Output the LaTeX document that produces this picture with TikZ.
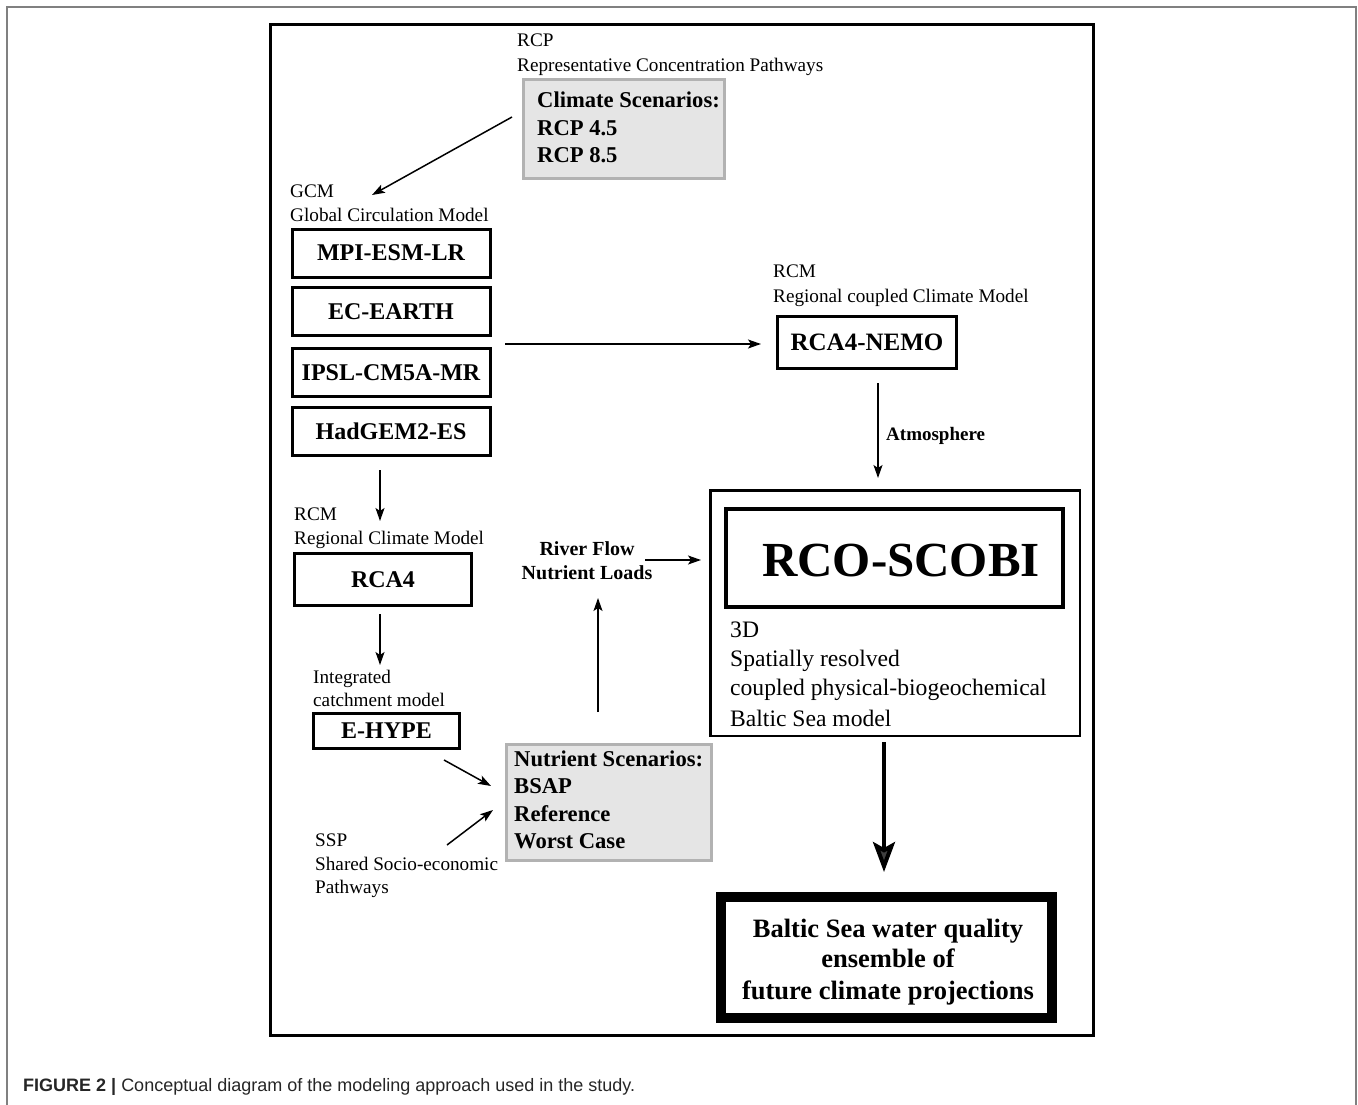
\documentclass[tikz,border=0pt]{standalone}
\usepackage{fontspec}
\setmainfont{Liberation Serif}
\newfontfamily\capfont{Liberation Sans}
\usetikzlibrary{arrows.meta}
\tikzset{
  lbl/.style={anchor=base west, inner sep=0pt, font=\fontsize{19.2}{25}\selectfont},
  biglbl/.style={anchor=base west, inner sep=0pt, font=\fontsize{23.6}{29}\selectfont},
  blbl/.style={anchor=base west, inner sep=0pt, font=\fontsize{22.6}{27}\selectfont\bfseries},
  mbox/.style={draw, line width=3pt, inner sep=0pt, font=\fontsize{24}{28}\selectfont\bfseries},
  greybox/.style={draw=black!30, fill=black!10, line width=3pt, inner sep=0pt},
  arr/.style={line width=1.5pt, -{Stealth[length=13pt,width=9pt,inset=3pt]}},
}
\begin{document}
\begin{tikzpicture}[x=1pt,y=-1pt]
\useasboundingbox (0,0) rectangle (1358,1105);
% frames
\draw[black!50, line width=1.2pt] (7,1105) -- (7,7) -- (1356,7) -- (1356,1105);
\draw[line width=3pt] (270,25) rectangle (1093,1035);

% top: climate scenarios
\node[lbl] (rcp) at (517,47) {RCP};
\node[lbl] (rcpl) at (517,72) {Representative Concentration Pathways};
\node[greybox, minimum width=201pt, minimum height=99pt] (clim) at (624,129) {};
\node[blbl] (clim1) at (537,108) {Climate Scenarios:};
\node[blbl] (clim2) at (537,135.5) {RCP 4.5};
\node[blbl] (clim3) at (537,163) {RCP 8.5};

% GCM
\node[lbl] (gcm) at (290,197) {GCM};
\node[lbl] (gcml) at (290,222) {Global Circulation Model};
\node[mbox, minimum width=198pt, minimum height=48pt] (mpi) at (391,253) {MPI-ESM-LR};
\node[mbox, minimum width=198pt, minimum height=48pt] (ec) at (391,311.5) {EC-EARTH};
\node[mbox, minimum width=198pt, minimum height=48pt] (ipsl) at (391,372.5) {IPSL-CM5A-MR};
\node[mbox, minimum width=198pt, minimum height=48pt] (had) at (391,431) {HadGEM2-ES};

% RCM left
\node[lbl] (rcm) at (294,520) {RCM};
\node[lbl] (rcml) at (294,544) {Regional Climate Model};
\node[mbox, minimum width=177pt, minimum height=52pt] (rca4) at (383,579.5) {RCA4};
\node[lbl] (icm) at (313,683) {Integrated};
\node[lbl] (icml) at (313,706) {catchment model};
\node[mbox, minimum width=146pt, minimum height=35pt] (ehype) at (386.5,731) {E-HYPE};

% SSP
\node[lbl] (ssp) at (315,846) {SSP};
\node[lbl] (ssp2) at (315,870) {Shared Socio-economic};
\node[lbl] (ssp3) at (315,893) {Pathways};

% nutrient scenarios
\node[greybox, minimum width=205pt, minimum height=116pt] (nut) at (609,802.5) {};
\node[blbl] (nut1) at (514,766) {Nutrient Scenarios:};
\node[blbl] (nut2) at (514,793) {BSAP};
\node[blbl] (nut3) at (514,821) {Reference};
\node[blbl] (nut4) at (514,848) {Worst Case};

% river flow
\node[anchor=base, inner sep=0pt, font=\fontsize{20}{24}\selectfont\bfseries] (river1) at (587,555) {River Flow};
\node[anchor=base, inner sep=0pt, font=\fontsize{20}{24}\selectfont\bfseries] (river2) at (587,579) {Nutrient Loads};

% RCM right
\node[lbl] (rcmr) at (773,277) {RCM};
\node[lbl] (rcmrl) at (773,302) {Regional coupled Climate Model};
\node[mbox, minimum width=179pt, minimum height=52pt, font=\fontsize{25}{28}\selectfont\bfseries] (nemo) at (867,342.5) {RCA4-NEMO};

% RCO-SCOBI
\node[draw, line width=2.5pt, minimum width=369.5pt, minimum height=245.5pt, inner sep=0pt] (rco) at (895,613) {};
\node[draw, line width=4pt, minimum width=337pt, minimum height=98pt, inner sep=0pt] (rcoin) at (894.5,558) {};
\node[anchor=base, inner sep=0pt, font=\fontsize{49}{55}\selectfont\bfseries] (rcot) at (901,576) {RCO-SCOBI};
\node[biglbl] (d1) at (730,637) {3D};
\node[biglbl] (d2) at (730,666) {Spatially resolved};
\node[biglbl] (d3) at (730,695) {coupled physical-biogeochemical};
\node[biglbl] (d4) at (730,726) {Baltic Sea model};

% final box
\node[draw, line width=10pt, minimum width=331pt, minimum height=121pt, inner sep=0pt] (final) at (886.5,957.5) {};
\node[anchor=base, inner sep=0pt, font=\fontsize{26.5}{31}\selectfont\bfseries] (f1) at (888,937) {Baltic Sea water quality};
\node[anchor=base, inner sep=0pt, font=\fontsize{26.5}{31}\selectfont\bfseries] (f2) at (888,967) {ensemble of};
\node[anchor=base, inner sep=0pt, font=\fontsize{26.5}{31}\selectfont\bfseries] (f3) at (888,999) {future climate projections};

% connector end points
\coordinate (c1s) at (512,117);
\coordinate (c1e) at (372,195);
\coordinate (c2s) at (380,470);
\coordinate (c2e) at (380,521);
\coordinate (c3s) at (380,614);
\coordinate (c3e) at (380,665);
\coordinate (c4s) at (444,760);
\coordinate (c4e) at (491,786);
\coordinate (c5s) at (447,845);
\coordinate (c5e) at (493,810);
\coordinate (c6s) at (598,712);
\coordinate (c6e) at (598,598);
\coordinate (c7s) at (645,560);
\coordinate (c7e) at (701,560);
\coordinate (c8s) at (505,344);
\coordinate (c8e) at (761,344);
\coordinate (c9s) at (878,383);
\coordinate (c9e) at (878,478);
\coordinate (c10s) at (884,742);
\coordinate (c10e) at (884,872);

\draw[arr] (c1s) -- (c1e);
\draw[arr] (c2s) -- (c2e);
\draw[arr] (c3s) -- (c3e);
\draw[arr] (c4s) -- (c4e);
\draw[arr] (c5s) -- (c5e);
\draw[arr] (c6s) -- (c6e);
\draw[arr] (c7s) -- (c7e);
\draw[arr] (c8s) -- (c8e);
\draw[arr] (c9s) -- (c9e);
\node[anchor=base west, inner sep=0pt, font=\fontsize{19}{23}\selectfont\bfseries] (atm) at (886,440) {Atmosphere};
\draw[line width=4pt, -{Stealth[length=30pt,width=22pt,inset=6pt,fill=black!75]}] (c10s) -- (c10e);

% caption
\node[anchor=base west, inner sep=0pt, font=\capfont\fontsize{18}{22}\selectfont, text=black!85] (cap) at (23,1091) {\textbf{FIGURE 2 |} Conceptual diagram of the modeling approach used in the study.};
\end{tikzpicture}
\end{document}
